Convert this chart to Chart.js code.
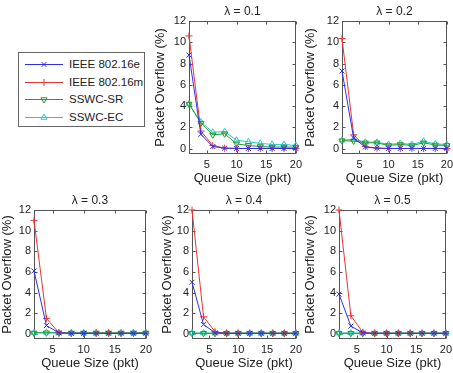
<!DOCTYPE html>
<html>
<head>
<meta charset="utf-8">
<script src="https://cdn.jsdelivr.net/npm/chart.js@4.4.0/dist/chart.umd.min.js"></script>
<style>
  body { margin: 0; background: #fff; }
  #wrap { position: relative; width: 453px; height: 373px; overflow: hidden; font-family: "Liberation Sans", Arial, sans-serif; color: #222; }
  canvas.plot { position: absolute; }
  #legend { position: absolute; left: 18px; top: 52px; width: 125px; height: 73px; border: 1px solid #666; background: #fff; }
  .row { position: absolute; left: 5px; height: 16px; }
  .row canvas { position: absolute; left: 0; top: 0; }
  .row span { position: absolute; left: 45px; top: 0; font-size: 11.5px; line-height: 16px; white-space: nowrap; }
</style>
</head>
<body>
<div id="wrap">
  <div id="legend"></div>
</div>
<script>
// data
const queueSizes = [2, 4, 6, 8, 10, 12, 14, 16, 18, 20];
const lambdas = ['0.1', '0.2', '0.3', '0.4', '0.5'];
const seriesNames = ['IEEE 802.16e', 'IEEE 802.16m', 'SSWC-SR', 'SSWC-EC'];
const xTickValues = [5, 10, 15, 20];
const yTickValues = [0, 2, 4, 6, 8, 10, 12];

// one row per lambda
const ieee16e = [
  [8.8, 1.35, 0.2, 0.05, 0.02, 0.02, 0.02, 0.02, 0.02, 0.02],
  [7.3, 1.0, 0.15, 0.05, 0.02, 0.02, 0.02, 0.02, 0.02, 0.02],
  [6.1, 0.8, 0.1, 0.05, 0.05, 0.05, 0.05, 0.05, 0.05, 0.05],
  [5.0, 0.9, 0.1, 0.05, 0.05, 0.05, 0.05, 0.05, 0.05, 0.05],
  [3.85, 0.75, 0.1, 0.05, 0.05, 0.05, 0.05, 0.05, 0.05, 0.05]
];
const ieee16m = [
  [10.6, 1.65, 0.3, 0.05, 0.02, 0.02, 0.02, 0.02, 0.02, 0.02],
  [10.35, 1.3, 0.2, 0.05, 0.02, 0.02, 0.02, 0.02, 0.02, 0.02],
  [11.0, 1.5, 0.1, 0.05, 0.05, 0.05, 0.05, 0.05, 0.05, 0.05],
  [12.0, 1.65, 0.2, 0.05, 0.05, 0.05, 0.05, 0.05, 0.05, 0.05],
  [12.0, 1.75, 0.15, 0.05, 0.05, 0.05, 0.05, 0.05, 0.05, 0.05]
];
const sswcSR = [
  [4.2, 2.4, 1.3, 1.4, 0.45, 0.3, 0.2, 0.15, 0.15, 0.15],
  [0.75, 0.72, 0.55, 0.55, 0.3, 0.4, 0.3, 0.55, 0.35, 0.3],
  [0.08, 0.1, 0.08, 0.08, 0.08, 0.08, 0.08, 0.08, 0.08, 0.08],
  [0.05, 0.05, 0.05, 0.05, 0.05, 0.05, 0.05, 0.05, 0.05, 0.05],
  [0.05, 0.05, 0.05, 0.05, 0.05, 0.05, 0.05, 0.05, 0.05, 0.05]
];
const sswcEC = [
  [4.2, 2.5, 1.55, 1.6, 0.8, 0.65, 0.5, 0.4, 0.4, 0.3],
  [0.8, 0.88, 0.62, 0.6, 0.4, 0.5, 0.4, 0.7, 0.45, 0.4],
  [0.12, 0.15, 0.1, 0.1, 0.1, 0.1, 0.1, 0.1, 0.1, 0.12],
  [0.08, 0.08, 0.08, 0.08, 0.08, 0.08, 0.08, 0.08, 0.08, 0.08],
  [0.08, 0.08, 0.08, 0.08, 0.08, 0.08, 0.08, 0.08, 0.08, 0.08]
];

const seriesData = [ieee16e, ieee16m, sswcSR, sswcEC];
const colors = ['#2f2fe8', '#e83434', '#2a992a', '#22cccc'];
const markers = [
  { style: 'crossRot', rot: 0 },
  { style: 'cross', rot: 0 },
  { style: 'triangle', rot: 180 },
  { style: 'triangle', rot: 0 }
];

// plot areas (left, top, width, height) and y-label gap
const panels = [
  { L: 189, T: 21, W: 107, H: 133, gap: 29 },
  { L: 342, T: 21, W: 105, H: 133, gap: 32 },
  { L: 34, T: 210, W: 112, H: 129, gap: 27 },
  { L: 192, T: 210, W: 104, H: 129, gap: 25 },
  { L: 339, T: 210, W: 107, H: 129, gap: 29 }
];
const AXW = 40, TITLEH = 20, XAXH = 32, PADR = 10;
const axisColor = '#555';

// MATLAB-like box with inward ticks
const axesBox = {
  id: 'axesBox',
  beforeDatasetsDraw(chart) {
    const { ctx, chartArea: a, scales: { x, y } } = chart;
    const l = Math.round(a.left) + 0.5, r = Math.round(a.right) - 0.5;
    const t = Math.round(a.top) + 0.5, b = Math.round(a.bottom) - 0.5;
    ctx.save();
    ctx.strokeStyle = axisColor;
    ctx.lineWidth = 1;
    ctx.strokeRect(l, t, r - l, b - t);
    ctx.beginPath();
    xTickValues.forEach(v => {
      const px = Math.round(x.getPixelForValue(v)) + 0.5;
      ctx.moveTo(px, b); ctx.lineTo(px, b - 3);
      ctx.moveTo(px, t); ctx.lineTo(px, t + 3);
    });
    yTickValues.forEach(v => {
      const py = Math.round(y.getPixelForValue(v)) + 0.5;
      ctx.moveTo(l, py); ctx.lineTo(l + 3, py);
      ctx.moveTo(r, py); ctx.lineTo(r - 3, py);
    });
    ctx.stroke();
    ctx.restore();
  }
};

Chart.defaults.font.family = '"Liberation Sans", Arial, sans-serif';
Chart.defaults.color = '#222';

const wrap = document.getElementById('wrap');

panels.forEach((p, i) => {
  const canvas = document.createElement('canvas');
  canvas.className = 'plot';
  canvas.width = AXW + p.W + PADR;
  canvas.height = TITLEH + p.H + XAXH;
  canvas.style.left = (p.L - AXW) + 'px';
  canvas.style.top = (p.T - TITLEH) + 'px';
  wrap.appendChild(canvas);

  const datasets = seriesNames.map((name, s) => ({
    label: name,
    data: queueSizes.map((q, k) => ({ x: q, y: seriesData[s][i][k] })),
    borderColor: colors[s],
    backgroundColor: 'transparent',
    borderWidth: 1,
    pointStyle: markers[s].style,
    pointRotation: markers[s].rot,
    pointRadius: 3.5,
    pointBorderWidth: 1,
    pointBorderColor: colors[s],
    pointBackgroundColor: 'transparent',
    tension: 0,
    clip: 5
  }));

  new Chart(canvas, {
    type: 'line',
    data: { datasets },
    options: {
      responsive: false,
      devicePixelRatio: 1,
      animation: false,
      layout: { padding: { left: 0, right: PADR, top: 0, bottom: 0 } },
      plugins: {
        legend: { display: false },
        tooltip: { enabled: false },
        title: {
          display: true,
          text: 'λ = ' + lambdas[i],
          fullSize: false,
          font: { size: 12, weight: 'normal' },
          color: '#222',
          padding: { top: 3.6, bottom: 2 }
        }
      },
      scales: {
        x: {
          type: 'linear',
          min: 2,
          max: 20,
          afterBuildTicks: s => { s.ticks = xTickValues.map(v => ({ value: v })); },
          afterFit: s => { s.height = XAXH; },
          grid: { display: false, drawTicks: false },
          border: { display: false },
          ticks: { font: { size: 11 }, color: '#222', padding: 4, maxRotation: 0 },
          title: { display: true, text: 'Queue Size (pkt)', font: { size: 13 }, color: '#222', padding: { top: 0, bottom: 0 } }
        },
        y: {
          min: -0.5,
          max: 12,
          afterBuildTicks: s => { s.ticks = yTickValues.map(v => ({ value: v })); },
          afterFit: s => { s.width = AXW; },
          grid: { display: false, drawTicks: false },
          border: { display: false },
          ticks: { font: { size: 11 }, color: '#222', padding: 3 },
          title: { display: true, text: 'Packet Overflow (%)', font: { size: 13 }, color: '#222', padding: { top: AXW - p.gap - 7.8, bottom: 0 } }
        }
      }
    },
    plugins: [axesBox]
  });
});

// legend
const legend = document.getElementById('legend');
seriesNames.forEach((name, s) => {
  const row = document.createElement('div');
  row.className = 'row';
  row.style.top = (3 + s * 17.6) + 'px';
  const c = document.createElement('canvas');
  c.width = 40; c.height = 16;
  const ctx = c.getContext('2d');
  ctx.strokeStyle = colors[s];
  ctx.lineWidth = 1;
  ctx.beginPath();
  ctx.moveTo(1, 8.5); ctx.lineTo(39, 8.5);
  ctx.stroke();
  ctx.fillStyle = 'transparent';
  Chart.helpers.drawPoint(ctx, { pointStyle: markers[s].style, rotation: markers[s].rot, radius: 3.5, borderWidth: 1 }, 20, 8.5);
  const label = document.createElement('span');
  label.textContent = name;
  row.appendChild(c);
  row.appendChild(label);
  legend.appendChild(row);
});
</script>
</body>
</html>
